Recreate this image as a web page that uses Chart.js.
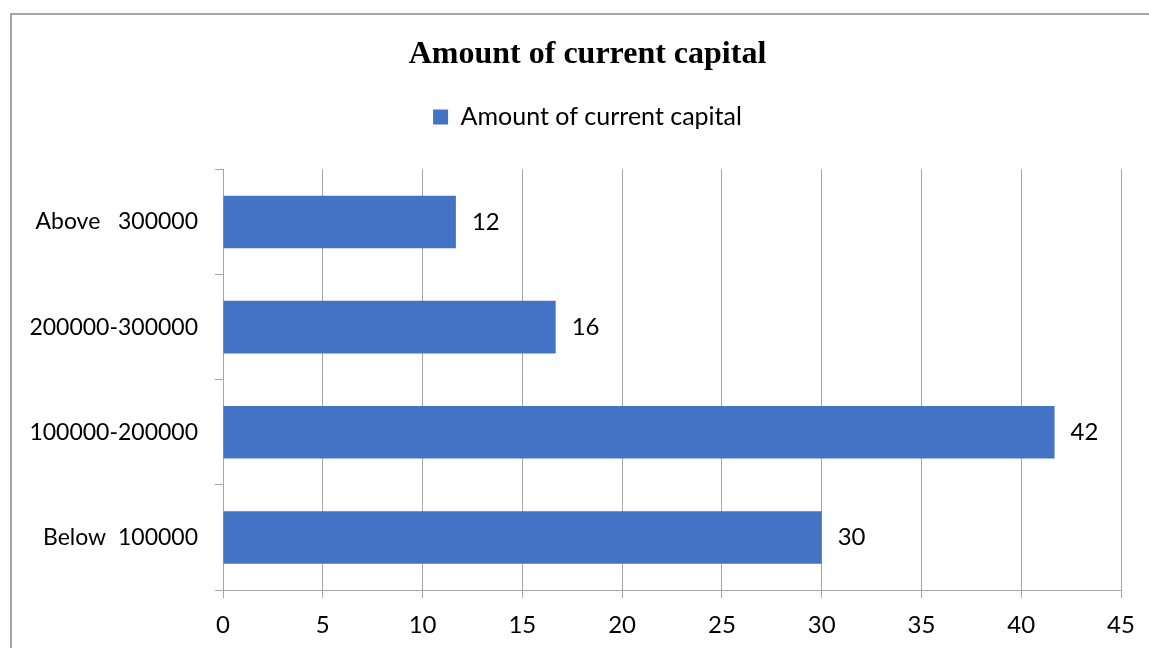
<!DOCTYPE html>
<html>
<head>
<meta charset="utf-8">
<script src="https://cdn.jsdelivr.net/npm/chart.js@4.4.1/dist/chart.umd.min.js"></script>
<style>
  body { margin: 0; background: #fff; overflow: hidden; }
  #wrap { position: relative; width: 1149px; height: 648px; }
  #frame { position: absolute; left: 10px; top: 13px; width: 1200px; height: 700px;
           border-left: 2px solid #a6a6a6; border-top: 2px solid #a6a6a6; }
  #capital-chart { position: absolute; left: 0; top: 0; }
</style>
</head>
<body>
<div id="wrap">
  <div id="frame"></div>
  <canvas id="capital-chart" width="1149" height="648"></canvas>
</div>
<script>
// Chart data, top to bottom as in the picture
const categories = ['Above   300000', '200000-300000', '100000-200000', 'Below  100000'];
const capitalValues = [11.67, 16.67, 41.67, 30];
const valueLabels = ['12', '16', '42', '30'];
const xTicks = [0, 5, 10, 15, 20, 25, 30, 35, 40, 45];

const seriesName = 'Amount of current capital';
const chartTitle = 'Amount of current capital';

const barColor = '#4472C4';
const lineColor = '#a6a6a6';
const labelFont = 'Lato';

// writes the value next to the end of each bar
const barValueLabels = {
    id: 'barValueLabels',
    afterDatasetsDraw(chart) {
        const ctx = chart.ctx;
        const meta = chart.getDatasetMeta(0);
        ctx.save();
        ctx.font = '24px ' + labelFont;
        ctx.fillStyle = '#000';
        ctx.textAlign = 'left';
        ctx.textBaseline = 'middle';
        meta.data.forEach((bar, i) => {
            ctx.fillText(valueLabels[i], bar.x + 16, bar.y);
        });
        ctx.restore();
    }
};

// extra room under the legend
const legendSpace = {
    id: 'legendSpace',
    beforeInit(chart) {
        const fit = chart.legend.fit;
        chart.legend.fit = function () {
            fit.bind(chart.legend)();
            this.height += 30;
        };
    }
};

const ctx = document.getElementById('capital-chart').getContext('2d');
const capitalChart = new Chart(ctx, {
    type: 'bar',
    data: {
        labels: categories,
        datasets: [{
            label: seriesName,
            data: capitalValues,
            backgroundColor: barColor,
            borderWidth: 0,
            categoryPercentage: 1,
            barPercentage: 0.5
        }]
    },
    options: {
        indexAxis: 'y',
        responsive: false,
        animation: false,
        devicePixelRatio: 1,
        layout: {
            padding: { left: 26, right: 0, top: 0, bottom: 0 }
        },
        scales: {
            x: {
                min: 0,
                max: 45,
                afterBuildTicks(scale) {
                    scale.ticks = xTicks.map(v => ({ value: v }));
                },
                afterFit(scale) {
                    scale.height = 58;
                },
                ticks: {
                    color: '#000',
                    padding: 13,
                    maxRotation: 0,
                    font: { family: labelFont, size: 24 }
                },
                grid: {
                    color: lineColor,
                    lineWidth: 1,
                    tickLength: 8,
                    drawTicks: true
                },
                border: { color: lineColor, width: 1 }
            },
            y: {
                offset: true,
                afterFit(scale) {
                    scale.width = 197;
                },
                ticks: {
                    color: '#000',
                    padding: 17,
                    font: { family: labelFont, size: 23 }
                },
                grid: {
                    offset: true,
                    drawOnChartArea: false,
                    color: lineColor,
                    tickLength: 8
                },
                border: { color: lineColor, width: 1 }
            },
            // empty scale on the right, keeps the plot narrower than the title row
            spacer: {
                type: 'linear',
                axis: 'y',
                position: 'right',
                afterFit(scale) {
                    scale.width = 28;
                },
                ticks: { display: false },
                grid: { display: false },
                border: { display: false }
            }
        },
        plugins: {
            title: {
                display: true,
                text: chartTitle,
                color: '#000',
                font: { family: 'Liberation Serif', size: 32, weight: 'bold' },
                padding: { top: 36, bottom: 20 }
            },
            legend: {
                display: true,
                position: 'top',
                labels: {
                    color: '#000',
                    boxWidth: 15,
                    boxHeight: 15,
                    padding: 10,
                    font: { family: labelFont, size: 25 }
                }
            },
            tooltip: { enabled: false }
        }
    },
    plugins: [barValueLabels, legendSpace]
});
</script>
</body>
</html>
